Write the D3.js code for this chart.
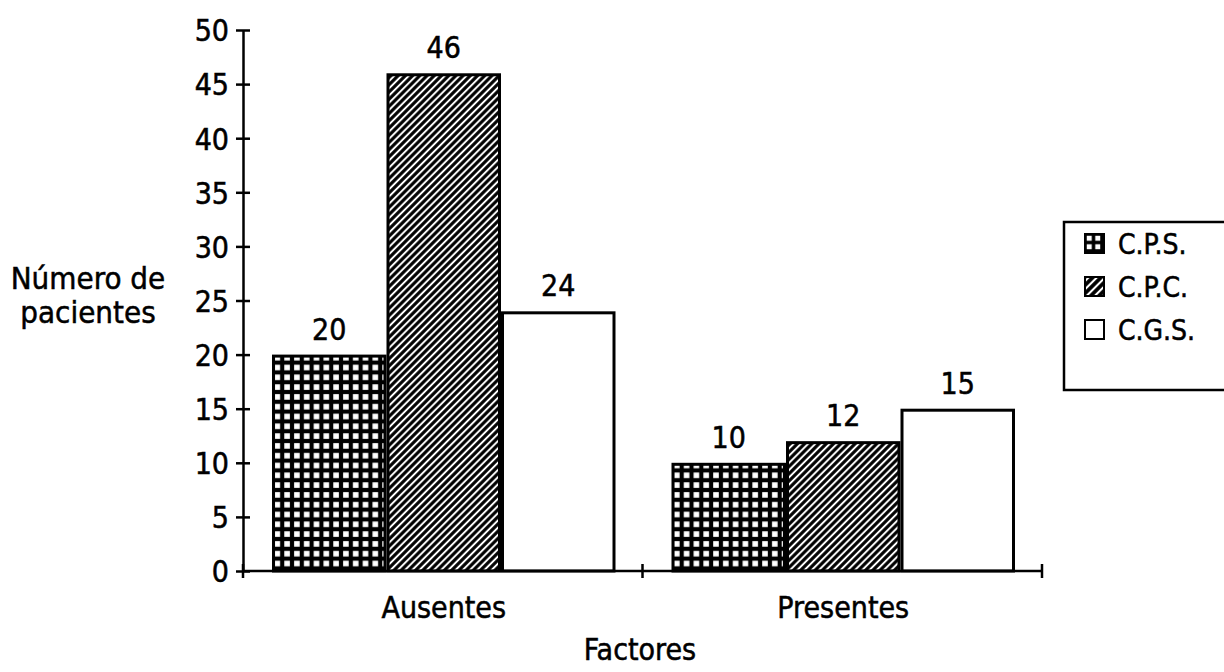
<!DOCTYPE html>
<html>
<head>
<meta charset="utf-8">
<script src="https://cdn.jsdelivr.net/npm/d3@7/dist/d3.min.js"></script>
<style>
  html, body { margin: 0; padding: 0; background: #fff; }
  svg text { font-family: "DejaVu Sans Condensed", "DejaVu Sans", sans-serif; fill: #000; stroke: #000; stroke-width: 0.5px; }
</style>
</head>
<body>
<svg id="chart" width="1224" height="672"></svg>
<script>
// Patients by factor group and procedure
const categories = ["Ausentes", "Presentes"];
const seriesNames = ["C.P.S.", "C.P.C.", "C.G.S."];
const cpsValues = [20, 10];
const cpcValues = [46, 12];
const cgsValues = [24, 15];
const yTicks = [0, 5, 10, 15, 20, 25, 30, 35, 40, 45, 50];

const seriesValues = [cpsValues, cpcValues, cgsValues];
const rows = categories.map((c, i) => ({
  category: c,
  values: seriesNames.map((s, j) => ({ series: s, value: seriesValues[j][i] }))
}));

const svg = d3.select("#chart");
const defs = svg.append("defs");
const font = '"DejaVu Sans Condensed", "DejaVu Sans", sans-serif';

// Grid fill: white squares on black
function gridPattern(id, cell, hole) {
  const p = defs.append("pattern").attr("id", id)
    .attr("patternUnits", "userSpaceOnUse")
    .attr("width", cell).attr("height", cell);
  p.append("rect").attr("width", cell).attr("height", cell).attr("fill", "#000");
  const off = (cell - hole) / 2;
  p.append("rect").attr("x", off).attr("y", off).attr("width", hole).attr("height", hole).attr("fill", "#fff");
}
// Diagonal hatch: thin white "/" lines on black
function hatchPattern(id, gap, lw) {
  const p = defs.append("pattern").attr("id", id)
    .attr("patternUnits", "userSpaceOnUse")
    .attr("width", gap).attr("height", gap)
    .attr("patternTransform", "rotate(45)");
  p.append("rect").attr("width", gap).attr("height", gap).attr("fill", "#000");
  p.append("line").attr("x1", gap / 2).attr("x2", gap / 2).attr("y1", 0).attr("y2", gap)
    .attr("stroke", "#fff").attr("stroke-width", lw);
}
gridPattern("grid", 9.8, 5.6);
hatchPattern("hatch", 5.1, 2.0);
gridPattern("gridLegend", 8.5, 5);
hatchPattern("hatchLegend", 5.8, 2.1);

const fills = { "C.P.S.": "url(#grid)", "C.P.C.": "url(#hatch)", "C.G.S.": "#fff" };
const legendFills = { "C.P.S.": "url(#gridLegend)", "C.P.C.": "url(#hatchLegend)", "C.G.S.": "#fff" };

const x0 = d3.scaleBand().domain(categories).range([243, 1042]).paddingInner(0).paddingOuter(0);
const x1 = d3.scaleBand().domain(seriesNames).range([29, x0.bandwidth() - 27]).padding(0);
const y = d3.scaleLinear().domain([0, 50]).range([571, 30]);

const fs = 30;

// Bars
const groups = svg.append("g").selectAll("g").data(rows).join("g")
  .attr("transform", d => `translate(${x0(d.category)},0)`);

groups.selectAll("rect").data(d => d.values).join("rect")
  .attr("x", d => x1(d.series) + 1.5)
  .attr("width", x1.bandwidth() - 3)
  .attr("y", d => y(d.value) + 1.5)
  .attr("height", d => y(0) - y(d.value) - 1.5)
  .attr("fill", d => fills[d.series])
  .attr("stroke", "#000").attr("stroke-width", 3);

groups.selectAll("text.val").data(d => d.values).join("text")
  .attr("class", "val")
  .attr("x", d => x1(d.series) + x1.bandwidth() / 2)
  .attr("y", d => y(d.value) - 15)
  .attr("text-anchor", "middle")
  .attr("font-size", fs)
  .text(d => d.value);

// Y axis
const yAxis = svg.append("g").attr("transform", "translate(243,0)")
  .call(d3.axisLeft(y).tickValues(yTicks).tickSizeInner(7).tickSizeOuter(0).tickPadding(8));
yAxis.select(".domain").attr("stroke-width", 2.5);
yAxis.selectAll(".tick line").attr("x2", 7).attr("x1", -7).attr("stroke-width", 2.5);
yAxis.selectAll(".tick text").attr("font-size", fs).attr("x", -14).attr("dy", "0.36em")
  .style("font-family", font);

// X axis (category boundaries as ticks)
const xBounds = [x0.range()[0], ...categories.map(c => x0(c) + x0.bandwidth())];
const xAxis = svg.append("g");
xAxis.append("line").attr("x1", xBounds[0]).attr("x2", xBounds[xBounds.length - 1])
  .attr("y1", y(0)).attr("y2", y(0)).attr("stroke", "#000").attr("stroke-width", 2.5);
xAxis.selectAll("line.tick").data(xBounds).join("line").attr("class", "tick")
  .attr("x1", d => d).attr("x2", d => d)
  .attr("y1", y(0) - 7).attr("y2", y(0) + 7)
  .attr("stroke", "#000").attr("stroke-width", 2.5);
xAxis.selectAll("text").data(categories).join("text")
  .attr("x", d => x0(d) + x0.bandwidth() / 2 + 1)
  .attr("y", 618)
  .attr("text-anchor", "middle").attr("font-size", fs)
  .text(d => d);

// Axis titles
svg.append("text").attr("x", 640).attr("y", 660).attr("text-anchor", "middle")
  .attr("font-size", fs).text("Factores");
const yt = svg.append("text").attr("text-anchor", "middle").attr("font-size", 31);
yt.append("tspan").attr("x", 88).attr("y", 289).text("Número de");
yt.append("tspan").attr("x", 88).attr("y", 323).text("pacientes");

// Legend
const legend = svg.append("g");
legend.append("rect").attr("x", 1064).attr("y", 222).attr("width", 170).attr("height", 168)
  .attr("fill", "#fff").attr("stroke", "#000").attr("stroke-width", 2.5);
const li = legend.selectAll("g").data(seriesNames).join("g")
  .attr("transform", (d, i) => `translate(1085,${234 + i * 43})`);
li.append("rect").attr("width", 19).attr("height", 19)
  .attr("fill", d => legendFills[d]).attr("stroke", "#000").attr("stroke-width", 2);
li.append("text").attr("x", 33).attr("y", 10).attr("dy", "0.36em")
  .attr("font-size", 28).text(d => d);
</script>
</body>
</html>
